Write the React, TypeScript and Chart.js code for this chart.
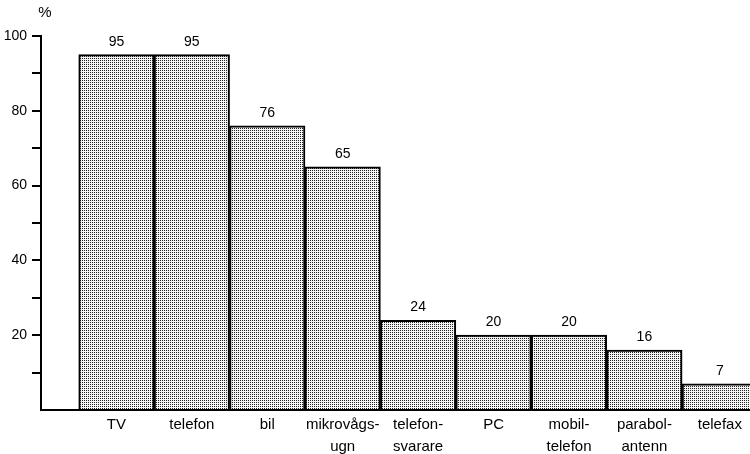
import React, { useEffect, useRef } from "react";
import { Chart, registerables } from "chart.js";

Chart.register(...registerables);

const CATEGORIES: (string | string[])[] = [
  "TV",
  "telefon",
  "bil",
  ["mikrovågs-", "ugn"],
  ["telefon-", "svarare"],
  "PC",
  ["mobil-", "telefon"],
  ["parabol-", "antenn"],
  "telefax",
];
const VALUES: number[] = [95, 95, 76, 65, 24, 20, 20, 16, 7];
const Y_TICK_LABELS: number[] = [20, 40, 60, 80, 100];
const UNIT_LABEL = "%";

const FONT = "'Liberation Sans', Arial, Helvetica, sans-serif";

function makePattern(): CanvasPattern | string {
  const c = document.createElement("canvas");
  c.width = 2;
  c.height = 2;
  const g = c.getContext("2d");
  if (!g) return "#bbbbbb";
  g.fillStyle = "#f4f4f4";
  g.fillRect(0, 0, 2, 2);
  g.fillStyle = "#222222";
  g.fillRect(0, 0, 1, 1);
  const p = g.createPattern(c, "repeat");
  return p || "#bbbbbb";
}

const labelPlugin = {
  id: "valueLabels",
  afterDatasetsDraw(chart: any) {
    const ctx = chart.ctx;
    const meta = chart.getDatasetMeta(0);
    ctx.save();
    ctx.fillStyle = "#000";
    ctx.font = `14px ${FONT}`;
    ctx.textAlign = "center";
    ctx.textBaseline = "middle";
    meta.data.forEach((bar: any, i: number) => {
      ctx.fillText(String(VALUES[i]), bar.x, bar.y - 13);
    });
    const area = chart.chartArea;
    ctx.font = `15px ${FONT}`;
    ctx.fillText(UNIT_LABEL, area.left + 4, area.top - 23);
    ctx.restore();
  },
};

export default function App() {
  const ref = useRef<HTMLCanvasElement | null>(null);

  useEffect(() => {
    if (!ref.current) return;
    const pattern = makePattern();
    const chart = new Chart(ref.current, {
      type: "bar",
      data: {
        datasets: [
          {
            data: VALUES.map((v, i) => ({ x: i, y: v })),
            backgroundColor: pattern as any,
            borderColor: "#000",
            borderWidth: 2,
            borderSkipped: "bottom",
            barPercentage: 1,
            categoryPercentage: 1,
          },
        ],
      },
      options: {
        animation: false,
        responsive: true,
        maintainAspectRatio: false,
        layout: { padding: { top: 36, left: 0, right: 0, bottom: 0 } },
        plugins: {
          legend: { display: false },
          tooltip: { enabled: false },
          title: { display: false },
        },
        scales: {
          x: {
            type: "linear",
            offset: false,
            min: -1,
            max: 8.4,
            afterBuildTicks: (scale: any) => {
              scale.ticks = CATEGORIES.map((_, i) => ({ value: i }));
            },
            afterFit: (scale: any) => {
              scale.height = 44;
            },
            grid: { display: false, drawTicks: false },
            border: { display: true, color: "#000", width: 2 },
            ticks: {
              autoSkip: false,
              maxRotation: 0,
              minRotation: 0,
              padding: 4,
              color: "#000",
              font: { family: FONT, size: 15, lineHeight: 1.45 },
              callback: (value: any) => {
                const i = Math.round(Number(value));
                return CATEGORIES[i] ?? "";
              },
            },
          },
          y: {
            min: 0,
            max: 100,
            afterFit: (scale: any) => {
              scale.width = 41;
            },
            grid: {
              drawOnChartArea: false,
              drawTicks: true,
              tickLength: 9,
              lineWidth: 2,
              color: (ctx: any) =>
                ctx.tick && ctx.tick.value === 0 ? "rgba(0,0,0,0)" : "#000",
            },
            border: { display: true, color: "#000", width: 2 },
            ticks: {
              stepSize: 10,
              padding: 5,
              color: "#000",
              font: { family: FONT, size: 14 },
              callback: (value: any) =>
                Y_TICK_LABELS.includes(Number(value)) ? String(value) : "",
            },
          },
        },
      },
      plugins: [labelPlugin],
    });
    return () => chart.destroy();
  }, []);

  return (
    <div
      style={{
        position: "absolute",
        left: 0,
        top: 0,
        width: 750,
        height: 454,
        background: "#fff",
      }}
    >
      <canvas ref={ref} />
    </div>
  );
}
